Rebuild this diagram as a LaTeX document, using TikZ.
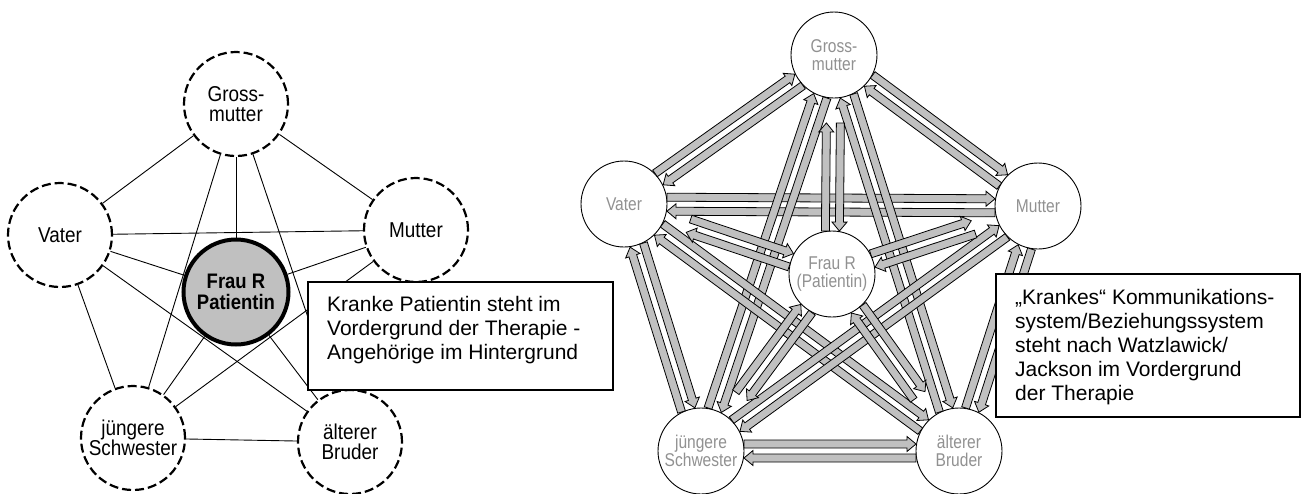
\documentclass[tikz,border=0pt]{standalone}
\usepackage{fontspec}
\setmainfont{Liberation Sans}
\newfontfamily\lnarrow[FakeStretch=0.88]{Liberation Sans}
\newfontfamily\rnarrow[FakeStretch=0.84]{Liberation Sans}
\usetikzlibrary{calc}
\definecolor{arrowgray}{RGB}{192,192,192}
\definecolor{labelgray}{RGB}{145,145,145}
\definecolor{patgray}{RGB}{192,192,192}
\newcommand\barrow[4]{%
 \path (#1.center); \pgfgetlastxy{\ax}{\ay}%
 \path (#2.center); \pgfgetlastxy{\bx}{\by}%
 \pgfmathsetmacro\ang{atan2((\by)-(\ay),(\bx)-(\ax))}%
 \pgfmathsetmacro\len{veclen((\bx)-(\ax),(\by)-(\ay))}%
 \pgfmathsetmacro\tip{\len-#4}%
 \pgfmathsetmacro\hb{\len-#4-9}%
 \filldraw[blockarrow,shift={(\ax,\ay)},rotate=\ang]
   (#3pt,11pt) -- (\hb pt,11pt) -- (\hb pt,14.5pt) -- (\tip pt,7pt)
   -- (\hb pt,-0.5pt) -- (\hb pt,3pt) -- (#3pt,3pt) -- cycle;}
\begin{document}
\begin{tikzpicture}[x=1pt,y=-1pt,
 lnode/.style={circle,draw=black,line width=2.2pt,dash pattern=on 9pt off 4pt,fill=white,
   minimum size=104pt,inner sep=0pt,align=center,
   font={\lnarrow\fontsize{21.5}{19.5}\selectfont\lineskiplimit=-30pt}},
 fraunode/.style={circle,draw=black,line width=4pt,fill=patgray,minimum size=105pt,inner sep=0pt,
   align=center,font={\lnarrow\bfseries\fontsize{21}{21}\selectfont\lineskiplimit=-30pt}},
 rnode/.style={circle,draw=black,line width=0.9pt,fill=white,minimum size=86pt,inner sep=0pt,
   align=center,text=labelgray,font={\rnarrow\fontsize{18.5}{17.5}\selectfont\lineskiplimit=-30pt}},
 edgeline/.style={draw=black,line width=0.9pt},
 blockarrow/.style={fill=arrowgray,draw=black,line width=0.8pt,line join=miter},
 textbox/.style={draw=black,line width=1.5pt,fill=white,inner sep=0pt,anchor=north west},
 boxtext/.style={inner sep=0pt,anchor=north west,align=left,
   font={\fontsize{21}{24}\selectfont}}
]
\useasboundingbox (0,0) rectangle (1304,493);
% ---------- left diagram ----------
\node[lnode] (lg) at (236,104) {Gross-\\mutter};
\node[lnode] (lv) at (60,235) {Vater};
\node[lnode] (lm) at (416,230) {Mutter};
\node[fraunode] (lf) at (236,292) {Frau R\\Patientin};
\node[lnode] (ls) at (133,438) {jüngere\\Schwester};
\node[lnode] (lb) at (350,442) {älterer\\Bruder};
\foreach \a/\b in {lg/lv,lg/lm,lg/lf,lg/ls,lg/lb,lv/lm,lv/lf,lv/ls,lv/lb,lm/lf,lm/ls,lm/lb,lf/ls,lf/lb,ls/lb}
  \draw[edgeline] (\a) -- (\b);
% ---------- right diagram ----------
\node[rnode] (rg) at (834,55) {Gross-\\mutter};
\node[rnode] (rv) at (624,204) {Vater};
\node[rnode] (rm) at (1038,206) {Mutter};
\node[rnode] (rf) at (832,274) {Frau R\\(Patientin)};
\node[rnode] (rs) at (701,451) {jüngere\\Schwester};
\node[rnode] (rb) at (959,451) {älterer\\Bruder};
\foreach \a/\b in {rv/rg,rg/rm,rm/rb,rb/rs,rs/rv,rv/rm,rg/rs,rg/rb,rv/rb,rm/rs}{
  \barrow{\a}{\b}{43}{43}
  \barrow{\b}{\a}{43}{43}}
\foreach \b in {rg,rv,rm,rs,rb}{
  \barrow{rf}{\b}{43}{68}
  \barrow{\b}{rf}{68}{43}}
% ---------- text boxes ----------
\node[textbox,minimum width=305pt,minimum height=108pt] (box1) at (307,281) {};
\node[boxtext] (box1text) at (327,296.5) {Kranke Patientin steht im\\Vordergrund der Therapie -\\Angehörige im Hintergrund};
\node[textbox,minimum width=304pt,minimum height=143pt] (box2) at (995,273) {};
\node[boxtext] (box2text) at (1015,289.5) {„Krankes“ Kommunikations-\\system/Beziehungssystem\\steht nach Watzlawick/\\Jackson im Vordergrund\\der Therapie};
\end{tikzpicture}
\end{document}
